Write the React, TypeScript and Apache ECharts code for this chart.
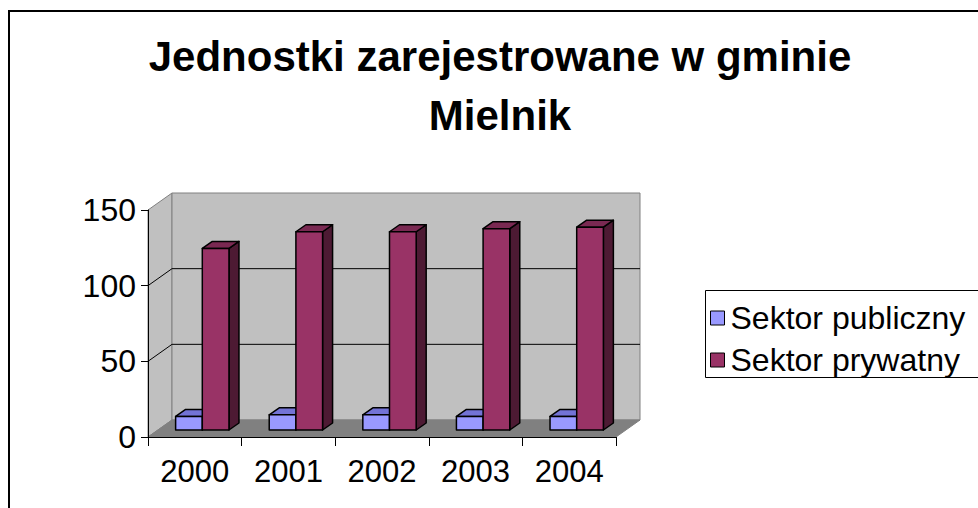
import React, { useEffect, useRef } from "react";
import * as echarts from "echarts";

const years = ["2000", "2001", "2002", "2003", "2004"];
const publicValues = [9, 10, 10, 9, 9];
const privateValues = [120, 131, 131, 133, 134];
const yTickValues = [0, 50, 100, 150];
const seriesNames = ["Sektor publiczny", "Sektor prywatny"];
const titleLines = ["Jednostki zarejestrowane w gminie", "Mielnik"];

const FONT = "'Liberation Sans', Arial, sans-serif";

// 3D look parameters
const WALL_DX = 24;
const WALL_DY = -17;
const BAR_SHIFT_X = 7.5;
const BAR_SHIFT_Y = -7;
const BAR_DX = 10;
const BAR_DY = -7;

function frameRenderItem(params: any, api: any) {
  const cs = params.coordSys;
  const x = cs.x, y = cs.y, w = cs.width, h = cs.height;
  const children: any[] = [];
  children.push({
    type: "polygon",
    shape: { points: [[x, y], [x + WALL_DX, y + WALL_DY], [x + WALL_DX, y + h + WALL_DY], [x, y + h]] },
    style: { fill: "#C0C0C0", stroke: "#808080", lineWidth: 1 },
  });
  children.push({
    type: "rect",
    shape: { x: x + WALL_DX, y: y + WALL_DY, width: w, height: h },
    style: { fill: "#C0C0C0", stroke: "#808080", lineWidth: 1 },
  });
  children.push({
    type: "polygon",
    shape: { points: [[x, y + h], [x + w, y + h], [x + w + WALL_DX, y + h + WALL_DY], [x + WALL_DX, y + h + WALL_DY]] },
    style: { fill: "#808080", stroke: "#808080", lineWidth: 1 },
  });
  yTickValues.forEach((v) => {
    if (v === yTickValues[0] || v === yTickValues[yTickValues.length - 1]) return;
    const py = api.coord([0, v])[1];
    children.push({
      type: "line",
      shape: { x1: x + WALL_DX, y1: py + WALL_DY, x2: x + WALL_DX + w, y2: py + WALL_DY },
      style: { stroke: "#000", lineWidth: 1 },
    });
    children.push({
      type: "line",
      shape: { x1: x, y1: py, x2: x + WALL_DX, y2: py + WALL_DY },
      style: { stroke: "#000", lineWidth: 1 },
    });
  });
  return { type: "group", children };
}

function makeBarRender(slot: number, front: string, top: string, side: string) {
  return function (params: any, api: any) {
    const idx = api.value(0);
    const v = api.value(1);
    const base = api.coord([idx, 0]);
    const tp = api.coord([idx, v]);
    const band = api.size([1, 0])[0];
    const bw = band * 0.285;
    const cx = base[0] + BAR_SHIFT_X;
    const x1 = cx - bw + slot * bw;
    const x2 = x1 + bw;
    const yb = base[1] + BAR_SHIFT_Y;
    const yt = tp[1] + BAR_SHIFT_Y;
    const stroke = { stroke: "#000", lineWidth: 1.5, lineJoin: "round" };
    return {
      type: "group",
      children: [
        {
          type: "polygon",
          shape: { points: [[x2, yt], [x2 + BAR_DX, yt + BAR_DY], [x2 + BAR_DX, yb + BAR_DY], [x2, yb]] },
          style: { fill: side, ...stroke },
        },
        {
          type: "polygon",
          shape: { points: [[x1, yt], [x2, yt], [x2 + BAR_DX, yt + BAR_DY], [x1 + BAR_DX, yt + BAR_DY]] },
          style: { fill: top, ...stroke },
        },
        {
          type: "rect",
          shape: { x: x1, y: yt, width: bw, height: yb - yt },
          style: { fill: front, ...stroke },
        },
      ],
    };
  };
}

export default function App() {
  const ref = useRef<HTMLDivElement>(null);
  useEffect(() => {
    if (!ref.current) return;
    const chart = echarts.init(ref.current, undefined, { renderer: "svg" });
    const option: any = {
      animation: false,
      backgroundColor: "#fff",
      grid: { left: 148, right: 362, top: 210, bottom: 71, containLabel: false },
      xAxis: {
        type: "category",
        data: years,
        boundaryGap: true,
        z: 10,
        axisLine: { show: true, lineStyle: { color: "#000", width: 1 } },
        axisTick: { show: true, length: 9, lineStyle: { color: "#000" } },
        axisLabel: { fontSize: 31, fontFamily: FONT, color: "#000", margin: 19 },
        splitLine: { show: false },
      },
      yAxis: {
        type: "value",
        min: 0,
        max: 150,
        interval: 50,
        z: 10,
        axisLine: { show: true, lineStyle: { color: "#000", width: 1 } },
        axisTick: { show: true, length: 7, lineStyle: { color: "#000" } },
        axisLabel: { fontSize: 32, fontFamily: FONT, color: "#000", margin: 12 },
        splitLine: { show: false },
      },
      legend: {
        data: seriesNames,
        orient: "vertical",
        left: 705,
        top: 290,
        padding: [12, 5, 7, 5],
        borderWidth: 0,
        icon: "rect",
        itemWidth: 14,
        itemHeight: 14,
        itemGap: 10,
        itemStyle: { borderColor: "#000", borderWidth: 1 },
        textStyle: { fontSize: 32, fontFamily: FONT, color: "#000", lineHeight: 30, padding: [0, 0, 0, 1] },
      },
      graphic: [
        {
          type: "rect",
          shape: { x: 9, y: 11, width: 1000, height: 600 },
          style: { fill: "none", stroke: "#000", lineWidth: 2 },
          silent: true,
        },
        {
          type: "rect",
          shape: { x: 705.5, y: 290.5, width: 300, height: 87 },
          style: { fill: "none", stroke: "#000", lineWidth: 1 },
          silent: true,
        },
        {
          type: "text",
          x: 500,
          y: 56,
          style: {
            text: titleLines[0],
            fontSize: 42,
            fontWeight: "bold",
            fontFamily: FONT,
            fill: "#000",
            align: "center",
            verticalAlign: "middle",
          },
        },
        {
          type: "text",
          x: 500,
          y: 115,
          style: {
            text: titleLines[1],
            fontSize: 42,
            fontWeight: "bold",
            fontFamily: FONT,
            fill: "#000",
            align: "center",
            verticalAlign: "middle",
          },
        },
      ],
      series: [
        {
          type: "custom",
          name: "frame",
          z: 1,
          silent: true,
          data: [[0, 0]],
          renderItem: frameRenderItem,
        },
        {
          type: "custom",
          name: seriesNames[0],
          z: 3,
          itemStyle: { color: "#9999FF" },
          data: publicValues.map((v, i) => [i, v]),
          renderItem: makeBarRender(0, "#9999FF", "#7373D6", "#4D4D80"),
        },
        {
          type: "custom",
          name: seriesNames[1],
          z: 4,
          itemStyle: { color: "#993366" },
          data: privateValues.map((v, i) => [i, v]),
          renderItem: makeBarRender(1, "#993366", "#7A2952", "#4D1A33"),
        },
      ],
    };
    chart.setOption(option);
    return () => chart.dispose();
  }, []);
  return (
    <div
      ref={ref}
      style={{ position: "fixed", left: 0, top: 0, width: 978, height: 508, background: "#fff" }}
    />
  );
}
